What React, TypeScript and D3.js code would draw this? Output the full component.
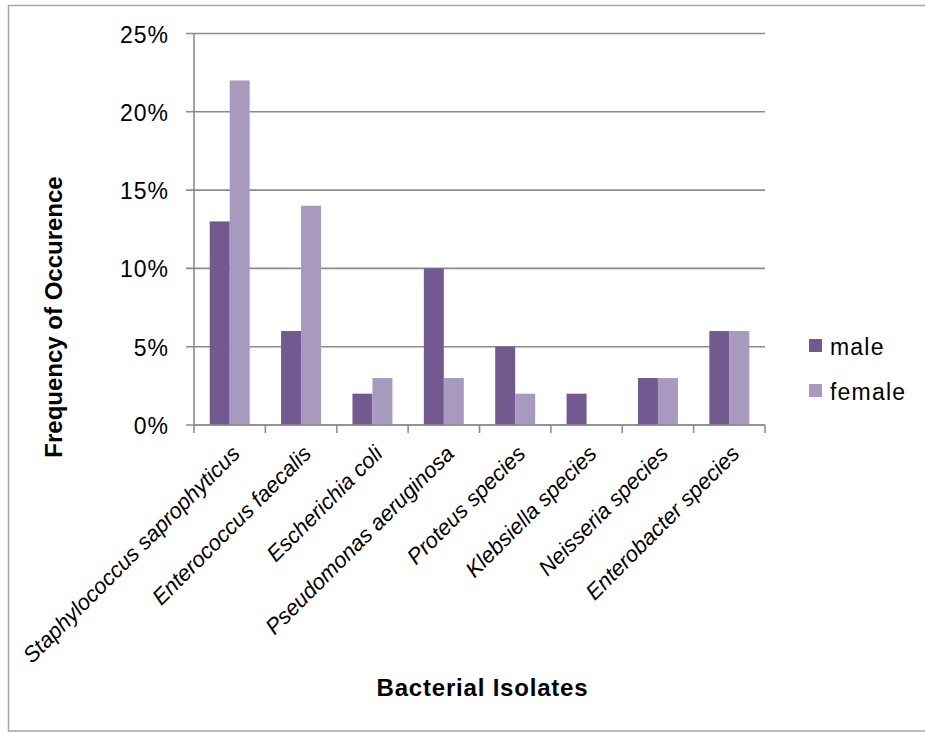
import React from "react";
import * as d3 from "d3";

// Bacterial isolates and their frequency of occurrence (%) by sex
const categories = [
  "Staphylococcus saprophyticus",
  "Enterococcus faecalis",
  "Escherichia coli",
  "Pseudomonas aeruginosa",
  "Proteus species",
  "Klebsiella species",
  "Neisseria species",
  "Enterobacter species",
];
const seriesNames = ["male", "female"];
const maleValues = [13, 6, 2, 10, 5, 2, 3, 6];
const femaleValues = [22, 14, 3, 3, 2, 0, 3, 6];
const yTicks = [0, 5, 10, 15, 20, 25];

const colors = ["#72598f", "#a899be"];
const WIDTH = 925;
const HEIGHT = 732;
const FONT = "'Liberation Sans', Arial, sans-serif";

export default function App() {
  const left = 194;
  const right = 765;
  const top = 33.5;
  const bottom = 425;

  const x0 = d3
    .scaleBand<string>()
    .domain(categories)
    .range([left, right])
    .paddingInner(0.44)
    .paddingOuter(0.22);
  const x1 = d3
    .scaleBand<string>()
    .domain(seriesNames)
    .range([0, x0.bandwidth()]);
  const y = d3.scaleLinear().domain([0, 25]).range([bottom, top]);

  const values = [maleValues, femaleValues];
  const step = x0.step();
  const tickXs = d3.range(categories.length + 1).map((i) => left + i * step);

  return (
    <svg
      width={WIDTH}
      height={HEIGHT}
      style={{ position: "absolute", left: 0, top: 0, background: "#fff" }}
      fontFamily={FONT}
    >
      <rect x={8.5} y={5.5} width={940} height={725.5} fill="#fff" stroke="#a6a6a6" strokeWidth={1.5} />

      {/* horizontal gridlines */}
      {yTicks.map((t) => (
        <line
          key={"g" + t}
          x1={left - 8}
          x2={right}
          y1={y(t)}
          y2={y(t)}
          stroke="#8c8c8c"
          strokeWidth={1.6}
        />
      ))}

      {/* bars */}
      {seriesNames.map((s, si) =>
        categories.map((c, ci) => {
          const v = values[si][ci];
          if (v <= 0) return null;
          return (
            <rect
              key={s + c}
              x={(x0(c) as number) + (x1(s) as number)}
              y={y(v)}
              width={x1.bandwidth()}
              height={y(0) - y(v)}
              fill={colors[si]}
            />
          );
        })
      )}

      {/* axes */}
      <line x1={left} x2={left} y1={top} y2={bottom} stroke="#8c8c8c" strokeWidth={1.6} />
      <line x1={left} x2={right} y1={bottom} y2={bottom} stroke="#8c8c8c" strokeWidth={1.6} />
      {tickXs.map((tx, i) => (
        <line key={"t" + i} x1={tx} x2={tx} y1={bottom} y2={bottom + 8} stroke="#8c8c8c" strokeWidth={1.6} />
      ))}

      {/* y tick labels */}
      {yTicks.map((t) => (
        <text
          key={"yl" + t}
          x={169}
          y={y(t) + 1}
          textAnchor="end"
          dominantBaseline="central"
          fontSize={23}
          letterSpacing={1}
          fill="#000"
        >
          {t + "%"}
        </text>
      ))}

      {/* category labels */}
      {categories.map((c) => {
        const cx = (x0(c) as number) + x0.bandwidth() / 2;
        return (
          <text
            key={"xl" + c}
            transform={`translate(${cx + 11.5},455) rotate(-45)`}
            textAnchor="end"
            fontSize={22}
            fontStyle="italic"
            fill="#000"
          >
            {c}
          </text>
        );
      })}

      {/* axis titles */}
      <text
        transform="translate(53,317) rotate(-90)"
        textAnchor="middle"
        dominantBaseline="central"
        fontSize={24}
        fontWeight="bold"
        fill="#000"
      >
        Frequency of Occurence
      </text>
      <text x={482.5} y={696} textAnchor="middle" fontSize={24} fontWeight="bold" letterSpacing={0.8} fill="#000">
        Bacterial Isolates
      </text>

      {/* legend */}
      {seriesNames.map((s, i) => (
        <g key={"lg" + s} transform={`translate(809,${339 + i * 45})`}>
          <rect x={0} y={0} width={13} height={13} fill={colors[i]} />
          <text x={21} y={16} fontSize={23} letterSpacing={1.2} fill="#000">
            {s}
          </text>
        </g>
      ))}
    </svg>
  );
}
